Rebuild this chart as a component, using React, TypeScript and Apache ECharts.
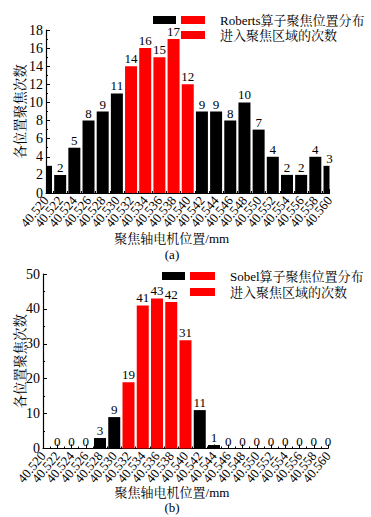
import React, { useEffect, useRef } from "react";
import * as echarts from "echarts";

const positions = ["40.520", "40.522", "40.524", "40.526", "40.528", "40.530", "40.532", "40.534", "40.536", "40.538", "40.540", "40.542", "40.544", "40.546", "40.548", "40.550", "40.552", "40.554", "40.556", "40.558", "40.560"];
const robertsCounts = [3, 2, 5, 8, 9, 11, 14, 16, 15, 17, 12, 9, 9, 8, 10, 7, 4, 2, 2, 4, 3];
const sobelCounts = [0, 0, 0, 0, 3, 9, 19, 41, 43, 42, 31, 11, 1, 0, 0, 0, 0, 0, 0, 0, 0];
const focusFrom = 6; // 40.532
const focusTo = 10; // 40.540
const robertsName = "Roberts算子聚焦位置分布";
const sobelName = "Sobel算子聚焦位置分布";
const focusName = "进入聚焦区域的次数";
const yName = "各位置聚焦次数";
const xName = "聚焦轴电机位置/mm";

const FONT = '"Liberation Serif", "Noto Serif CJK SC", "Noto Sans CJK SC", serif';
const RED = "#ff0000";
const BAR_W = 12;

// [index, value, showLabel]
function buildData(values: number[], inFocus: boolean) {
  const out: number[][] = [];
  values.forEach((v, i) => {
    const isFocus = i >= focusFrom && i <= focusTo;
    if (isFocus === inFocus) out.push([i, v, i === 0 ? 0 : 1]);
  });
  return out;
}

function renderBar(params: any, api: any) {
  const x = api.value(0);
  const v = api.value(1);
  const top = api.coord([x, v]);
  const base = api.coord([x, 0]);
  const cs = params.coordSys;
  const rect = echarts.graphic.clipRectByRect(
    { x: top[0] - BAR_W / 2, y: top[1], width: BAR_W, height: base[1] - top[1] },
    { x: cs.x, y: cs.y, width: cs.width, height: cs.height }
  );
  const children: any[] = [];
  if (rect) {
    children.push({ type: "rect", shape: rect, style: { fill: api.visual("color") } });
  }
  if (api.value(2)) {
    children.push({
      type: "text",
      x: top[0],
      y: top[1] - 1,
      style: {
        text: String(v),
        align: "center",
        verticalAlign: "bottom",
        fontFamily: FONT,
        fontSize: 13,
        fill: "#000",
      },
    });
  }
  return { type: "group", children };
}

export default function App() {
  const ref = useRef<HTMLDivElement>(null);
  useEffect(() => {
    document.body.style.margin = "0";
    const chart = echarts.init(ref.current!, null, { renderer: "svg" });
    const xValueAxis = (gridIndex: number) => ({
      type: "value",
      gridIndex,
      position: "bottom",
      min: 0,
      max: positions.length - 1,
      interval: 1,
      axisLine: { lineStyle: { color: "#000", width: 1.2 } },
      axisTick: { inside: true, length: 4, lineStyle: { color: "#000" } },
      minorTick: { show: true, splitNumber: 2, length: 2, lineStyle: { color: "#000" } },
      splitLine: { show: false },
      axisLabel: { show: false },
    });
    const xLabelAxis = (gridIndex: number, padRight: number, gap: number) => ({
      type: "category",
      gridIndex,
      position: "bottom",
      data: positions,
      boundaryGap: false,
      name: xName,
      nameLocation: "middle",
      nameGap: gap,
      nameMoveOverlap: false,
      nameTextStyle: { fontFamily: FONT, fontSize: 13, color: "#000", padding: [0, padRight, 0, 0] },
      axisLine: { show: false },
      axisTick: { show: false },
      splitLine: { show: false },
      axisLabel: {
        interval: 0,
        rotate: 50,
        margin: 5,
        fontFamily: FONT,
        fontSize: 13,
        color: "#000",
      },
    });
    const yAxisBase = (gridIndex: number, max: number, interval: number, gap: number) => ({
      type: "value",
      gridIndex,
      min: 0,
      max,
      interval,
      name: yName,
      nameLocation: "middle",
      nameGap: gap,
      nameMoveOverlap: false,
      nameTextStyle: { fontFamily: FONT, fontSize: 13.5, color: "#000" },
      axisLine: { show: true, lineStyle: { color: "#000", width: 1.2 } },
      axisTick: { show: true, inside: true, length: 4, lineStyle: { color: "#000" } },
      minorTick: { show: true, splitNumber: 2, length: 2, lineStyle: { color: "#000" } },
      splitLine: { show: false },
      axisLabel: { margin: 3, fontFamily: FONT, fontSize: 14, color: "#000" },
    });
    const barBase = {
      type: "custom",
      renderItem: renderBar,
      encode: { x: 0, y: 1 },
      z: 3,
    };
    const legendText = { fontFamily: FONT, fontSize: 13, lineHeight: 15, color: "#000", padding: [0, 0, 0, 10] };
    const option: any = {
      animation: false,
      backgroundColor: "#fff",
      grid: [
        { left: 46, right: 41.5, top: 30, height: 163 },
        { left: 43, right: 43, top: 274, height: 174.5 },
      ],
      xAxis: [xValueAxis(0), xLabelAxis(0, 32, 39), xValueAxis(1), xLabelAxis(1, 27, 37)],
      yAxis: [yAxisBase(0, 18, 2, 19), yAxisBase(1, 50, 10, 16)],
      legend: [
        {
          orient: "vertical",
          left: 181,
          top: 12.5,
          padding: 0,
          itemWidth: 24,
          itemHeight: 8,
          itemGap: 0,
          icon: "rect",
          textStyle: legendText,
          data: [robertsName, focusName + " "],
        },
        {
          orient: "vertical",
          left: 190,
          top: 268.5,
          padding: 0,
          itemWidth: 25,
          itemHeight: 8,
          itemGap: 1,
          icon: "rect",
          textStyle: legendText,
          data: [sobelName, focusName],
        },
      ],
      series: [
        { ...barBase, name: robertsName, xAxisIndex: 0, yAxisIndex: 0, itemStyle: { color: "#000" }, data: buildData(robertsCounts, false) },
        { ...barBase, name: focusName + " ", xAxisIndex: 0, yAxisIndex: 0, itemStyle: { color: RED }, data: buildData(robertsCounts, true) },
        { ...barBase, name: sobelName, xAxisIndex: 2, yAxisIndex: 1, itemStyle: { color: "#000" }, data: buildData(sobelCounts, false) },
        { ...barBase, name: focusName, xAxisIndex: 2, yAxisIndex: 1, itemStyle: { color: RED }, data: buildData(sobelCounts, true) },
      ],
      graphic: [
        { type: "rect", shape: { x: 153, y: 16, width: 23, height: 8 }, style: { fill: "#000" } },
        { type: "rect", shape: { x: 181, y: 16, width: 24, height: 8 }, style: { fill: RED }, z: 100 },
        { type: "rect", shape: { x: 162, y: 272, width: 23, height: 8 }, style: { fill: "#000" } },
        { type: "rect", shape: { x: 190, y: 272, width: 25, height: 8 }, style: { fill: RED }, z: 100 },
        { type: "text", x: 172, y: 254, style: { text: "(a)", fontFamily: FONT, fontSize: 13, fill: "#000", align: "center", verticalAlign: "middle" } },
        { type: "text", x: 172, y: 507, style: { text: "(b)", fontFamily: FONT, fontSize: 13, fill: "#000", align: "center", verticalAlign: "middle" } },
      ],
    };
    chart.setOption(option);
    return () => chart.dispose();
  }, []);
  return <div ref={ref} style={{ width: 371, height: 517 }} />;
}
